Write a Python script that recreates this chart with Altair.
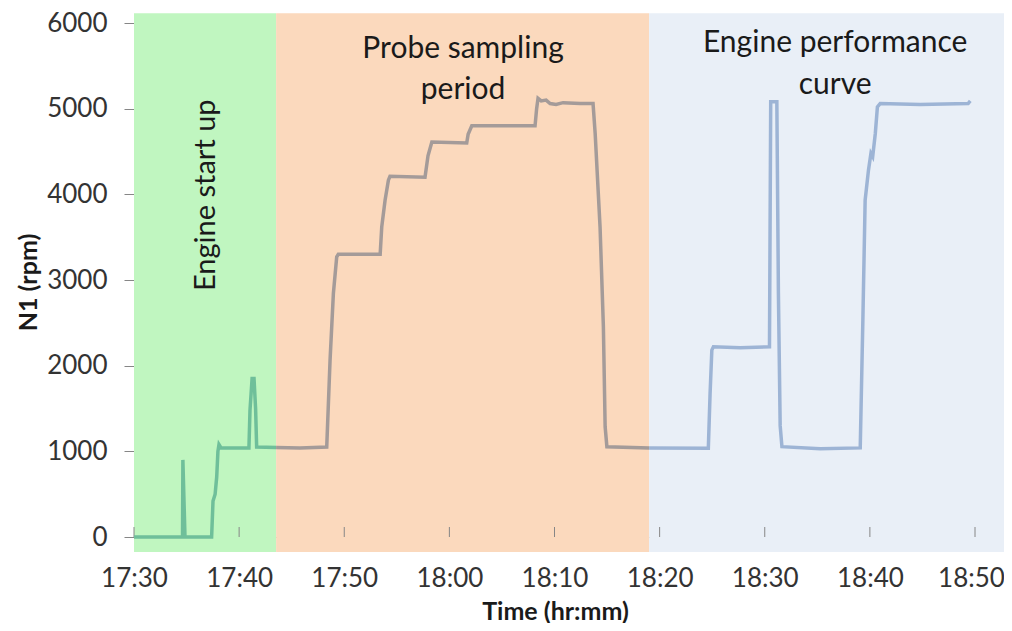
import altair as alt
import pandas as pd

DAY = "2020-01-01T"

# --- N1 trace (time hh:mm:ss, rpm) ---
start_times = ["17:30:00", "17:34:37", "17:34:39", "17:34:51", "17:37:23", "17:37:31",
               "17:37:43", "17:37:52", "17:37:59", "17:38:05", "17:38:17", "17:40:56",
               "17:41:02", "17:41:14", "17:41:25", "17:41:34", "17:41:40", "17:43:31"]
start_rpm = [0, 0, 900, 0, 0, 420, 500, 700, 1000, 1080, 1040, 1040,
             1480, 1850, 1850, 1500, 1050, 1045]

probe_times = ["17:43:31", "17:45:47", "17:48:20", "17:48:39", "17:48:58", "17:49:17",
               "17:49:26", "17:53:25", "17:53:34", "17:53:53", "17:54:12", "17:54:21",
               "17:57:41", "17:57:58", "17:58:20", "18:01:39", "18:01:47", "18:02:08",
               "18:08:09", "18:08:18", "18:08:26", "18:08:44", "18:09:12", "18:09:35",
               "18:10:09", "18:10:49", "18:12:26", "18:13:40", "18:13:52", "18:14:20",
               "18:14:39", "18:14:49", "18:14:59", "18:19:00"]
probe_rpm = [1045, 1040, 1050, 2065, 2843, 3270,
             3300, 3300, 3620, 3932, 4166, 4210,
             4200, 4450, 4610, 4600, 4700, 4800,
             4800, 5000, 5120, 5090, 5100, 5060,
             5050, 5070, 5060, 5060, 4715, 3620,
             2454, 1287, 1054, 1040]

curve_times = ["18:19:00", "18:24:38", "18:24:48", "18:24:58", "18:25:07", "18:27:40",
               "18:30:27", "18:30:34", "18:31:09", "18:31:18", "18:31:28", "18:31:38",
               "18:35:16", "18:39:05", "18:39:20", "18:39:33", "18:39:52", "18:40:06",
               "18:40:16", "18:40:31", "18:40:43", "18:40:59", "18:44:47", "18:49:21",
               "18:49:33"]
curve_rpm = [1040, 1035, 1677, 2182, 2220, 2210,
             2220, 5080, 5080, 2843, 1300, 1054,
             1030, 1040, 2532, 3932, 4282, 4477,
             4440, 4710, 5021, 5060, 5050, 5060,
             5090]

# --- shaded periods ---
region_names = ["start", "probe", "curve"]
region_from = ["17:30:00", "17:43:31", "18:19:00"]
region_to = ["17:43:31", "18:19:00", "18:53:30"]
region_low = [-175, -175, -175]
region_high = [6115, 6115, 6115]
region_colors = ["#c0f6c0", "#fbd9bd", "#e9eff7"]
line_colors = ["#6fbf9a", "#a49b99", "#9db4d5"]

# --- axes ---
x_tick_labels = ["17:30", "17:40", "17:50", "18:00", "18:10", "18:20", "18:30", "18:40", "18:50"]
y_ticks = [0, 1000, 2000, 3000, 4000, 5000, 6000]

# --- annotations ---
annot_text = ["Probe sampling", "period", "Engine performance", "curve"]
annot_time = ["18:01:18", "18:01:18", "18:36:42", "18:36:42"]
annot_rpm = [5700, 5220, 5764, 5274]
vert_text = ["Engine start up"]
vert_time = ["17:36:51"]
vert_rpm = [3990]

FONT = "Lato"

rows = []
for name, ts, vs in [("start", start_times, start_rpm),
                     ("probe", probe_times, probe_rpm),
                     ("curve", curve_times, curve_rpm)]:
    for t, v in zip(ts, vs):
        rows.append({"t": DAY + t, "rpm": v, "seg": name})
line_df = pd.DataFrame(rows)

reg_df = pd.DataFrame({
    "seg": region_names,
    "t": [DAY + t for t in region_from],
    "t1": [DAY + t for t in region_to],
    "lo": region_low,
    "hi": region_high,
})

tick_df = pd.DataFrame({"t": [DAY + t + ":00" for t in x_tick_labels]})
ann_df = pd.DataFrame({"t": [DAY + t for t in annot_time], "rpm": annot_rpm, "txt": annot_text})
vert_df = pd.DataFrame({"t": [DAY + t for t in vert_time], "rpm": vert_rpm, "txt": vert_text})


def dt(s):
    h, m = s.split(":")
    return alt.DateTime(year=2020, month=1, date=1, hours=int(h), minutes=int(m))


x_scale = alt.Scale(domain=[dt(x_tick_labels[0]), dt(x_tick_labels[-1])], nice=False)
y_scale = alt.Scale(domain=[y_ticks[0], y_ticks[-1]], nice=False, zero=False)

last_label = x_tick_labels[-1]
x_axis = alt.Axis(values=[dt(s) for s in x_tick_labels], format="%H:%M",
                  ticks=False, tickSize=0, labelPadding=49, labelBaseline="alphabetic",
                  labelOffset={"condition": {"test": f"datum.label == '{last_label}'", "value": -4},
                               "value": 0},
                  labelFontSize=26, labelColor="#333333", labelFont=FONT,
                  titleFontSize=25, titleFontWeight="bold", titleColor="#1a1a1a", titleFont=FONT,
                  titleX=421, titleY=82, titleBaseline="alphabetic", titleAlign="center",
                  domainColor="#868686", grid=False, labelFlush=False, labelOverlap=False)
y_axis = alt.Axis(values=y_ticks, format="d", tickSize=10, tickColor="#868686",
                  labelPadding=17, labelFontSize=26, labelColor="#333333", labelFont=FONT,
                  titleFontSize=25, titleFontWeight="bold", titleColor="#1a1a1a", titleFont=FONT,
                  titleAngle=270, titleX=-106, titleY=259, titleBaseline="middle",
                  titleAlign="center", domainColor="#868686", grid=False)

X = alt.X("t:T", scale=x_scale, axis=x_axis, title="Time (hr:mm)")
Y = alt.Y("rpm:Q", scale=y_scale, axis=y_axis, title="N1 (rpm)")

bg = alt.Chart(reg_df).mark_rect(clip=False).encode(
    x=alt.X("t:T", scale=x_scale, axis=x_axis, title="Time (hr:mm)"),
    x2="t1:T",
    y=alt.Y("lo:Q", scale=y_scale, axis=y_axis, title="N1 (rpm)"),
    y2="hi:Q",
    color=alt.Color("seg:N", scale=alt.Scale(domain=region_names, range=region_colors), legend=None),
)

ticks = alt.Chart(tick_df).mark_rule(color="#868686", strokeWidth=1).encode(
    x=alt.X("t:T", scale=x_scale, axis=x_axis, title="Time (hr:mm)"),
    y=alt.value(514),
    y2=alt.value(504),
)

lines = alt.Chart(line_df).mark_line(strokeWidth=3.5).encode(
    x=X,
    y=Y,
    stroke=alt.Stroke("seg:N", scale=alt.Scale(domain=region_names, range=line_colors), legend=None),
    detail="seg:N",
)

ann = alt.Chart(ann_df).mark_text(font=FONT, fontSize=30, color="#1a1a1a",
                                  align="center", baseline="middle").encode(
    x=X, y=Y, text="txt:N")

vert = alt.Chart(vert_df).mark_text(font=FONT, fontSize=29, color="#1a1a1a",
                                    align="center", baseline="middle", angle=270).encode(
    x=X, y=Y, text="txt:N")

chart = alt.layer(bg, ticks, lines, ann, vert).resolve_scale(color="independent").properties(
    width=841, height=514,
    autosize=alt.AutoSizeParams(type="none"),
    padding={"left": 126, "top": 15, "right": 29, "bottom": 86},
).configure_view(stroke=None)

chart.save("out.html", embed_options={"renderer": "svg", "actions": False})
